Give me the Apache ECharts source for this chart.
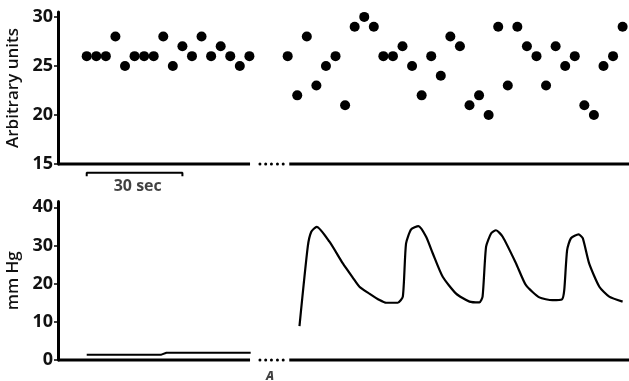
<!DOCTYPE html>
<html>
<head>
<meta charset="utf-8">
<script src="https://cdn.jsdelivr.net/npm/echarts@6/dist/echarts.min.js"></script>
<style>
html,body{margin:0;padding:0;background:#fff;}
#chart{width:629px;height:381px;}
</style>
</head>
<body>
<div id="chart"></div>
<script>
// ---- data ----
const sampleSec = 3;            // one reading every 3 s
const beforeStartIdx = 0;
const afterStartIdx = 21;
const unitsBefore = [26,26,26,28,25,26,26,26,28,25,27,26,28,26,27,26,25,26];
const unitsAfter = [26,22,28,23,25,26,21,29,30,29,26,26,27,25,22,26,24,28,27,21,22,20,29,23,29,27,26,23,27,25,26,21,20,25,26,29];

const pressureBeforeT = [0, 23.4, 25, 51.4];
const pressureBeforeV = [1.4, 1.4, 1.9, 1.9];
const pressureAfterT = [66.7,69.3,70.4,72.1,76.1,80.3,83.4,85.5,88.6,91.8,93.9,97.5,99.1,100.1,101.7,104.0,106.4,108.5,111.6,115.8,120.0,123.1,124.1,125.2,126.8,128.3,130.4,134.6,137.7,141.9,146.0,149.0,149.7,150.6,151.8,154.2,155.5,157.5,160.7,163.8,168.0];
const pressureAfterV = [8.9,29.7,33.6,34.9,31.0,25.3,21.6,19.2,17.4,15.7,15.0,15.0,16.6,30.5,34.2,35.1,32.3,27.9,21.8,17.4,15.3,15.1,16.6,29.7,33.2,34.0,32.3,25.3,19.6,16.4,15.7,15.9,18.3,28.8,31.9,32.9,31.9,25.3,19.2,16.6,15.3];

const topTicks = [15,20,25,30];
const bottomTicks = [0,10,20,30,40];
const xRange = [-9, 170];
const baselineLeft = [-9, 51.2];
const baselineRight = [63.5, 170];
const breakDots = [54.3, 56.1, 57.9, 59.8, 61.6];
const scaleBar = [0, 30];
const scaleBarLabel = '30 sec';
const markerLabel = 'A';
const markerT = 57.5;
const topTitle = 'Arbitrary units';
const bottomTitle = 'mm Hg';

// ---- build ----
const FONT = 'Open Sans';
const zip = (t, v) => t.map((x, i) => [x, v[i]]);
const scatterBefore = unitsBefore.map((v, i) => [(beforeStartIdx + i) * sampleSec, v]);
const scatterAfter = unitsAfter.map((v, i) => [(afterStartIdx + i) * sampleSec, v]);

function baseSeries(xi, yi, yv) {
  return [
    {type:'line', xAxisIndex:xi, yAxisIndex:yi, data:baselineLeft.map(x=>[x,yv]), symbol:'none', clip:false,
     lineStyle:{color:'#000', width:3}, silent:true, z:3},
    {type:'line', xAxisIndex:xi, yAxisIndex:yi, data:baselineRight.map(x=>[x,yv]), symbol:'none', clip:false,
     lineStyle:{color:'#000', width:3}, silent:true, z:3},
    {type:'scatter', xAxisIndex:xi, yAxisIndex:yi, data:breakDots.map(x=>[x,yv]), symbolSize:3, clip:false,
     itemStyle:{color:'#000', opacity:1}, silent:true}
  ];
}

function yAxisCfg(gi, min, max, ticks, title) {
  return {
    type:'value', gridIndex:gi, min:min, max:max,
    name:title, nameLocation:'middle', nameGap:34,
    nameTextStyle:{fontFamily:FONT, fontSize:17, fontWeight:600, color:'#111'},
    axisLine:{show:true, onZero:false, lineStyle:{color:'#000', width:3}},
    axisTick:{show:true, inside:false, length:4, lineStyle:{color:'#000', width:1.5}, customValues:ticks},
    axisLabel:{fontFamily:FONT, fontSize:18, fontWeight:700, color:'#111', margin:5, customValues:ticks},
    splitLine:{show:false}
  };
}

const option = {
  animation:false,
  backgroundColor:'#fff',
  grid:[
    {left:58, right:0, top:12, height:152, containLabel:false, outerBoundsMode:'none'},
    {left:58, right:0, top:201.6, height:158.4, containLabel:false, outerBoundsMode:'none'}
  ],
  xAxis:[
    {type:'value', gridIndex:0, min:xRange[0], max:xRange[1], show:false},
    {type:'value', gridIndex:1, min:xRange[0], max:xRange[1], show:false}
  ],
  yAxis:[
    yAxisCfg(0, 15, 30.5, topTicks, topTitle),
    yAxisCfg(1, 0, 41.5, bottomTicks, bottomTitle)
  ],
  series:[
    ...baseSeries(0,0,15),
    ...baseSeries(1,1,0),
    {type:'scatter', xAxisIndex:0, yAxisIndex:0, data:scatterBefore, symbolSize:10, itemStyle:{color:'#000', opacity:1}},
    {type:'scatter', xAxisIndex:0, yAxisIndex:0, data:scatterAfter, symbolSize:10, itemStyle:{color:'#000', opacity:1}},
    // scale bar
    {type:'line', xAxisIndex:0, yAxisIndex:0, clip:false, symbol:'none', silent:true,
     data:[[scaleBar[0],13.75],[scaleBar[0],14.1],[scaleBar[1],14.1],[scaleBar[1],13.75]],
     lineStyle:{color:'#000', width:2}},
    {type:'scatter', xAxisIndex:0, yAxisIndex:0, clip:false, symbolSize:0, silent:true,
     data:[[(scaleBar[0]+scaleBar[1])/2 + 1, 12.7]],
     label:{show:true, position:'inside', formatter:scaleBarLabel, fontFamily:FONT, fontSize:16, fontWeight:700, color:'#111'}},
    // pressure traces
    {type:'line', xAxisIndex:1, yAxisIndex:1, data:zip(pressureBeforeT, pressureBeforeV), symbol:'none',
     lineStyle:{color:'#000', width:2}},
    {type:'line', xAxisIndex:1, yAxisIndex:1, data:zip(pressureAfterT, pressureAfterV), symbol:'none', smooth:0.2,
     lineStyle:{color:'#000', width:2.2}},
    {type:'scatter', xAxisIndex:1, yAxisIndex:1, clip:false, symbolSize:0, silent:true,
     data:[[markerT, -4.4]],
     label:{show:true, position:'inside', formatter:markerLabel, fontFamily:FONT, fontSize:12, fontWeight:800, fontStyle:'italic', color:'#111'}}
  ]
};
const chart = echarts.init(document.getElementById('chart'), null, {renderer:'canvas'});
chart.setOption(option);
</script>
</body>
</html>
